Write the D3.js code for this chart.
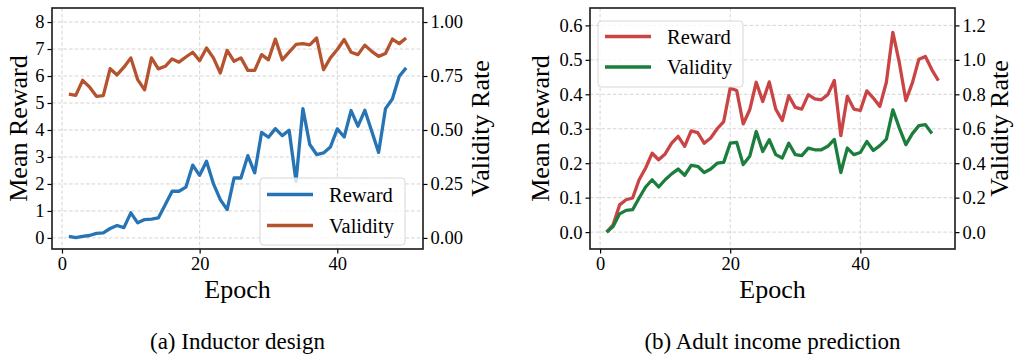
<!DOCTYPE html>
<html>
<head>
<meta charset="utf-8">
<script src="https://cdn.jsdelivr.net/npm/d3@7/dist/d3.min.js"></script>
<style>
  html, body { margin: 0; padding: 0; background: #ffffff; }
  svg { display: block; }
  text { font-family: "Liberation Serif", "Times New Roman", Times, serif; fill: #000; }
</style>
</head>
<body>
<svg id="fig" width="1015" height="354"></svg>
<script>
// ---- Inductor design: mean reward (left axis) and validity rate (right axis) per epoch ----
const inductorReward = [
  0.06, 0.01, 0.06, 0.09, 0.17, 0.19, 0.35, 0.46, 0.38, 0.93,
  0.56, 0.68, 0.70, 0.74, 1.23, 1.73, 1.73, 1.88, 2.70, 2.32,
  2.84, 2.01, 1.42, 1.05, 2.22, 2.22, 3.05, 2.41, 3.91, 3.73,
  4.05, 3.79, 3.99, 2.10, 4.79, 3.46, 3.09, 3.15, 3.37, 4.04,
  3.74, 4.72, 4.14, 4.73, 3.95, 3.17, 4.79, 5.15, 5.99, 6.30
];
const inductorValidity = [
  0.666, 0.660, 0.730, 0.699, 0.656, 0.659, 0.784, 0.755, 0.791, 0.834,
  0.733, 0.686, 0.834, 0.783, 0.795, 0.829, 0.814, 0.838, 0.860, 0.821,
  0.880, 0.834, 0.764, 0.869, 0.818, 0.834, 0.776, 0.776, 0.849, 0.825,
  0.921, 0.825, 0.861, 0.896, 0.900, 0.894, 0.926, 0.779, 0.834, 0.873,
  0.919, 0.860, 0.849, 0.893, 0.864, 0.841, 0.854, 0.921, 0.900, 0.926
];

// ---- Adult income prediction ----
const adultReward = [
  0.000, 0.021, 0.079, 0.094, 0.099, 0.152, 0.186, 0.229, 0.210, 0.227,
  0.258, 0.278, 0.249, 0.294, 0.289, 0.258, 0.273, 0.300, 0.321, 0.418,
  0.411, 0.314, 0.355, 0.435, 0.379, 0.436, 0.357, 0.324, 0.396, 0.362,
  0.357, 0.399, 0.387, 0.384, 0.399, 0.440, 0.280, 0.394, 0.357, 0.353,
  0.410, 0.389, 0.365, 0.435, 0.580, 0.491, 0.382, 0.433, 0.502, 0.510,
  0.471, 0.440
];
const adultValidity = [
  0.000, 0.032, 0.106, 0.126, 0.130, 0.198, 0.262, 0.304, 0.262, 0.304,
  0.338, 0.366, 0.330, 0.388, 0.382, 0.346, 0.366, 0.400, 0.405, 0.516,
  0.521, 0.392, 0.440, 0.584, 0.468, 0.536, 0.450, 0.430, 0.516, 0.450,
  0.444, 0.488, 0.478, 0.478, 0.498, 0.538, 0.346, 0.488, 0.450, 0.462,
  0.526, 0.474, 0.502, 0.540, 0.710, 0.604, 0.508, 0.572, 0.618, 0.624,
  0.572
];

// ---- Axis ticks and labels ----
const epochTicks = [0, 20, 40];
const inductorLeftTicks = [0, 1, 2, 3, 4, 5, 6, 7, 8];
const inductorRightTicks = [0, 0.25, 0.5, 0.75, 1.0];
const adultLeftTicks = [0, 0.1, 0.2, 0.3, 0.4, 0.5, 0.6];
const adultRightTicks = [0, 0.2, 0.4, 0.6, 0.8, 1.0, 1.2];
const seriesNames = ["Reward", "Validity"];
const captions = ["(a) Inductor design", "(b) Adult income prediction"];

const svg = d3.select("#fig");
const SERIF = "'Liberation Serif', 'Times New Roman', Times, serif";

function drawPanel(cfg) {
  const { x0, x1, y0, y1 } = cfg.box;
  const g = svg.append("g");

  const x = d3.scaleLinear().domain(cfg.xDomain).range([x0, x1]);
  const yL = d3.scaleLinear().domain(cfg.yLeftDomain).range([y1, y0]);
  const yR = d3.scaleLinear().domain(cfg.yRightDomain).range([y1, y0]);

  // dashed grid
  const grid = g.append("g").attr("class", "grid");
  grid.selectAll("line.gx").data(cfg.xTicks).join("line")
    .attr("x1", d => x(d)).attr("x2", d => x(d))
    .attr("y1", y0).attr("y2", y1)
    .attr("stroke", "#cfcfcf").attr("stroke-width", 0.9)
    .attr("stroke-dasharray", "3.5,2.2");
  grid.selectAll("line.gy").data(cfg.leftTicks).join("line")
    .attr("x1", x0).attr("x2", x1)
    .attr("y1", d => yL(d)).attr("y2", d => yL(d))
    .attr("stroke", "#cfcfcf").attr("stroke-width", 0.9)
    .attr("stroke-dasharray", "3.5,2.2");

  // series lines
  const epochs1 = v => v.map((d, i) => [i + 1, d]);
  const lineL = d3.line().x(d => x(d[0])).y(d => yL(d[1]));
  const lineR = d3.line().x(d => x(d[0])).y(d => yR(d[1]));
  g.append("path").datum(epochs1(cfg.reward))
    .attr("d", lineL).attr("fill", "none")
    .attr("stroke", cfg.colors[0]).attr("stroke-width", 3.3)
    .attr("stroke-linejoin", "round").attr("stroke-linecap", "butt");
  g.append("path").datum(epochs1(cfg.validity))
    .attr("d", lineR).attr("fill", "none")
    .attr("stroke", cfg.colors[1]).attr("stroke-width", 3.3)
    .attr("stroke-linejoin", "round").attr("stroke-linecap", "butt");

  // axes
  const tickStyle = sel => {
    sel.attr("font-family", SERIF);
    sel.select(".domain").remove();
    sel.selectAll(".tick line").attr("stroke", "#000").attr("stroke-width", 1.2);
    sel.selectAll(".tick text")
      .style("font-family", SERIF)
      .style("font-size", "18.5px").attr("fill", "#000");
  };
  g.append("g").attr("transform", `translate(0,${y1})`)
    .call(d3.axisBottom(x).tickValues(cfg.xTicks).tickSize(4.5).tickPadding(3.5))
    .call(tickStyle);
  g.append("g").attr("transform", `translate(${x0},0)`)
    .call(d3.axisLeft(yL).tickValues(cfg.leftTicks).tickSize(4.5).tickPadding(3)
      .tickFormat(d3.format(cfg.leftFmt)))
    .call(tickStyle);
  g.append("g").attr("transform", `translate(${x1},0)`)
    .call(d3.axisRight(yR).tickValues(cfg.rightTicks).tickSize(4.5).tickPadding(3)
      .tickFormat(d3.format(cfg.rightFmt)))
    .call(tickStyle);

  // frame
  g.append("rect").attr("x", x0).attr("y", y0)
    .attr("width", x1 - x0).attr("height", y1 - y0)
    .attr("fill", "none").attr("stroke", "#1a1a1a").attr("stroke-width", 1.6);

  // axis titles
  const midY = (y0 + y1) / 2;
  g.append("text").attr("transform", `translate(${cfg.leftTitleX},${midY}) rotate(-90)`)
    .attr("text-anchor", "middle").style("font-size", "26px").text("Mean Reward");
  g.append("text").attr("transform", `translate(${cfg.rightTitleX},${midY}) rotate(-90)`)
    .attr("text-anchor", "middle").style("font-size", "26px").text("Validity Rate");
  g.append("text").attr("x", (x0 + x1) / 2).attr("y", 298)
    .attr("text-anchor", "middle").style("font-size", "26px").text("Epoch");

  // legend
  const L = cfg.legend;
  const lg = g.append("g");
  lg.append("rect").attr("x", L.x).attr("y", L.y).attr("width", L.w).attr("height", L.h)
    .attr("rx", 3.5).attr("fill", "#ffffff").attr("fill-opacity", 0.8)
    .attr("stroke", "#d6d6d6").attr("stroke-width", 1);
  seriesNames.forEach((name, i) => {
    const cy = L.y + L.row0 + i * L.rowStep;
    lg.append("line").attr("x1", L.x + 7).attr("x2", L.x + 53)
      .attr("y1", cy).attr("y2", cy)
      .attr("stroke", cfg.colors[i]).attr("stroke-width", 3.3);
    lg.append("text").attr("x", L.x + 69).attr("y", cy + 7)
      .style("font-size", "20.5px").text(name);
  });

  // caption
  svg.append("text").attr("x", (x0 + x1) / 2).attr("y", 349)
    .attr("text-anchor", "middle").style("font-size", "23px").text(cfg.caption);
}

drawPanel({
  box: { x0: 52, x1: 423, y0: 8, y1: 249 },
  xDomain: [-1.45, 52.45],
  yLeftDomain: [-0.41, 8.52],
  yRightDomain: [-0.41 / 8, 8.52 / 8],
  xTicks: epochTicks,
  leftTicks: inductorLeftTicks,
  rightTicks: inductorRightTicks,
  leftFmt: "d", rightFmt: ".2f",
  reward: inductorReward,
  validity: inductorValidity,
  colors: ["#2774b4", "#b5532f"],
  leftTitleX: 27, rightTitleX: 489,
  legend: { x: 260, y: 178, w: 145, h: 67, row0: 16.5, rowStep: 31 },
  caption: captions[0]
});

drawPanel({
  box: { x0: 590, x1: 955, y0: 8, y1: 249 },
  xDomain: [-1.55, 54.55],
  yLeftDomain: [-0.049, 0.6505],
  yRightDomain: [-0.098, 1.301],
  xTicks: epochTicks,
  leftTicks: adultLeftTicks,
  rightTicks: adultRightTicks,
  leftFmt: ".1f", rightFmt: ".1f",
  reward: adultReward,
  validity: adultValidity,
  colors: ["#c94545", "#1b7e3c"],
  leftTitleX: 549, rightTitleX: 1008,
  legend: { x: 598, y: 21, w: 145, h: 66, row0: 15.5, rowStep: 30.5 },
  caption: captions[1]
});
</script>
</body>
</html>
